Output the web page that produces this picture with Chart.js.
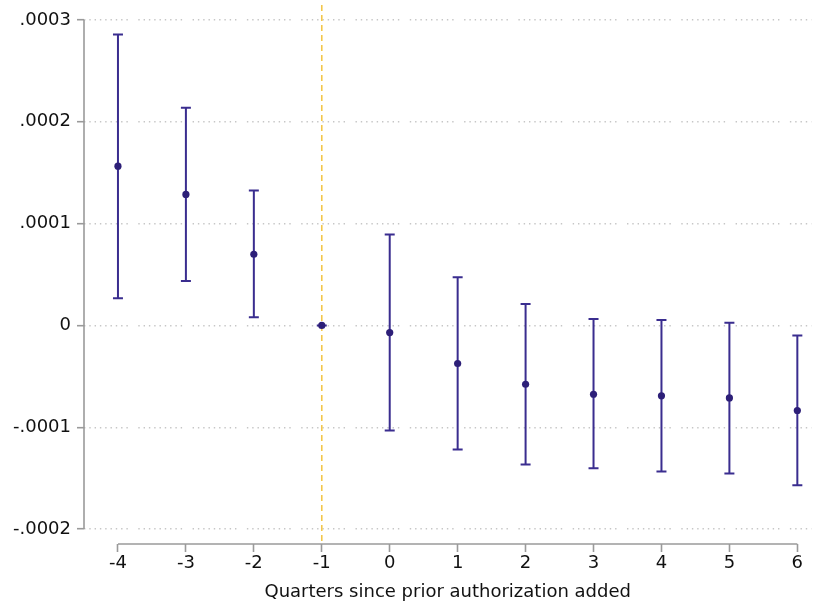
<!DOCTYPE html>
<html>
<head>
<meta charset="utf-8">
<script src="https://cdn.jsdelivr.net/npm/chart.js@4"></script>
<style>
  html, body { margin: 0; padding: 0; background: #ffffff; }
  #wrap { width: 815px; height: 607px; }
</style>
</head>
<body>
<div id="wrap"><canvas id="c" width="815" height="607"></canvas></div>
<script>
// Event-study coefficients by quarter relative to the policy change
const quarters = [-4, -3, -2, -1, 0, 1, 2, 3, 4, 5, 6];
const estimates = [0.0001564, 0.0001286, 0.0000699, 0, -0.0000070, -0.0000374, -0.0000578, -0.0000676, -0.0000692, -0.0000712, -0.0000836];
const upperCI = [0.0002858, 0.0002137, 0.0001325, 0, 0.0000893, 0.0000473, 0.0000211, 0.0000064, 0.0000054, 0.0000025, -0.0000099];
const lowerCI = [0.0000267, 0.0000437, 0.0000081, 0, -0.0001032, -0.0001219, -0.0001366, -0.0001403, -0.0001435, -0.0001455, -0.0001570];
const yTickValues = [-0.0002, -0.0001, 0, 0.0001, 0.0002, 0.0003];
const referenceQuarter = -1;
const xAxisTitle = 'Quarters since prior authorization added';

const MARK = '#3a2d8f';
const POINT = '#2d1f78';
const AXIS = '#9a9a9a';
const GRID = '#c6c6c6';
const REF = '#f3c74a';
const FONT = 'DejaVu Sans';

function fmtTick(v) {
  if (Math.abs(v) < 1e-12) return '0';
  const s = v.toFixed(4);
  return s.replace(/^(-?)0\./, '$1.');
}

// Dotted grid pattern: runs of dots separated by a slightly wider gap
const gridDash = [];
for (let i = 0; i < 9; i++) gridDash.push(1.4, i === 8 ? 10.5 : 3.9);

const xMin = -4.5, xMax = 6.207;
const yMin = -0.0002147, yMax = 0.0003147;

const decorations = {
  id: 'decorations',
  beforeDatasetsDraw(chart) {
    const { ctx, scales: { x, y }, chartArea } = chart;
    ctx.save();
    // Reference period line
    const xr = x.getPixelForValue(referenceQuarter);
    ctx.strokeStyle = REF;
    ctx.lineWidth = 1.6;
    ctx.setLineDash([6, 4]);
    ctx.beginPath();
    ctx.moveTo(xr, chartArea.top);
    ctx.lineTo(xr, chartArea.bottom);
    ctx.stroke();
    ctx.setLineDash([]);

    // Axis lines limited to the tick span
    ctx.strokeStyle = AXIS;
    ctx.lineWidth = 1.6;
    ctx.beginPath();
    ctx.moveTo(chartArea.left, y.getPixelForValue(yTickValues[0]));
    ctx.lineTo(chartArea.left, y.getPixelForValue(yTickValues[yTickValues.length - 1]));
    ctx.stroke();
    ctx.beginPath();
    ctx.moveTo(x.getPixelForValue(quarters[0]), chartArea.bottom);
    ctx.lineTo(x.getPixelForValue(quarters[quarters.length - 1]), chartArea.bottom);
    ctx.stroke();

    // Confidence intervals with caps
    ctx.strokeStyle = MARK;
    ctx.lineWidth = 2;
    const cap = 5;
    quarters.forEach((q, i) => {
      const px = x.getPixelForValue(q);
      const yHi = y.getPixelForValue(upperCI[i]);
      const yLo = y.getPixelForValue(lowerCI[i]);
      ctx.beginPath();
      ctx.moveTo(px, yHi); ctx.lineTo(px, yLo);
      ctx.moveTo(px - cap, yHi); ctx.lineTo(px + cap, yHi);
      ctx.moveTo(px - cap, yLo); ctx.lineTo(px + cap, yLo);
      ctx.stroke();
    });
    ctx.restore();
  }
};

new Chart(document.getElementById('c'), {
  type: 'scatter',
  data: {
    datasets: [{
      data: quarters.map((q, i) => ({ x: q, y: estimates[i] })),
      backgroundColor: POINT,
      borderColor: POINT,
      pointRadius: 3.6,
      pointHoverRadius: 3.6,
      borderWidth: 0
    }]
  },
  options: {
    responsive: false,
    animation: false,
    devicePixelRatio: 1,
    layout: { padding: { top: 5, right: 0, left: 0, bottom: 0 } },
    plugins: { legend: { display: false }, tooltip: { enabled: false } },
    scales: {
      x: {
        type: 'linear',
        min: xMin,
        max: xMax,
        afterBuildTicks(scale) { scale.ticks = quarters.map(v => ({ value: v })); },
        afterFit(scale) {
          scale.height = 63;
          scale.paddingLeft = 0;
          scale.paddingRight = 0;
        },
        border: { display: false },
        grid: {
          drawOnChartArea: false,
          drawTicks: true,
          tickLength: 8,
          tickColor: AXIS,
          tickWidth: 1.6
        },
        ticks: {
          color: '#111',
          font: { family: FONT, size: 18 },
          padding: 1,
          maxRotation: 0,
          autoSkip: false,
          callback: v => String(v)
        },
        title: {
          display: true,
          text: xAxisTitle,
          color: '#111',
          font: { family: FONT, size: 18 },
          padding: { top: 0, bottom: 4 }
        }
      },
      y: {
        type: 'linear',
        min: yMin,
        max: yMax,
        afterBuildTicks(scale) { scale.ticks = yTickValues.map(v => ({ value: v })); },
        afterFit(scale) {
          scale.width = 84;
          scale.paddingTop = 0;
          scale.paddingBottom = 0;
        },
        border: { display: false, dash: gridDash },
        grid: {
          color: GRID,
          lineWidth: 1.4,
          drawTicks: true,
          tickLength: 7,
          tickColor: AXIS,
          tickWidth: 1.6,
          tickBorderDash: []
        },
        ticks: {
          color: '#111',
          font: { family: FONT, size: 18 },
          padding: 6,
          autoSkip: false,
          callback: v => fmtTick(v)
        }
      }
    }
  },
  plugins: [decorations]
});
</script>
</body>
</html>
